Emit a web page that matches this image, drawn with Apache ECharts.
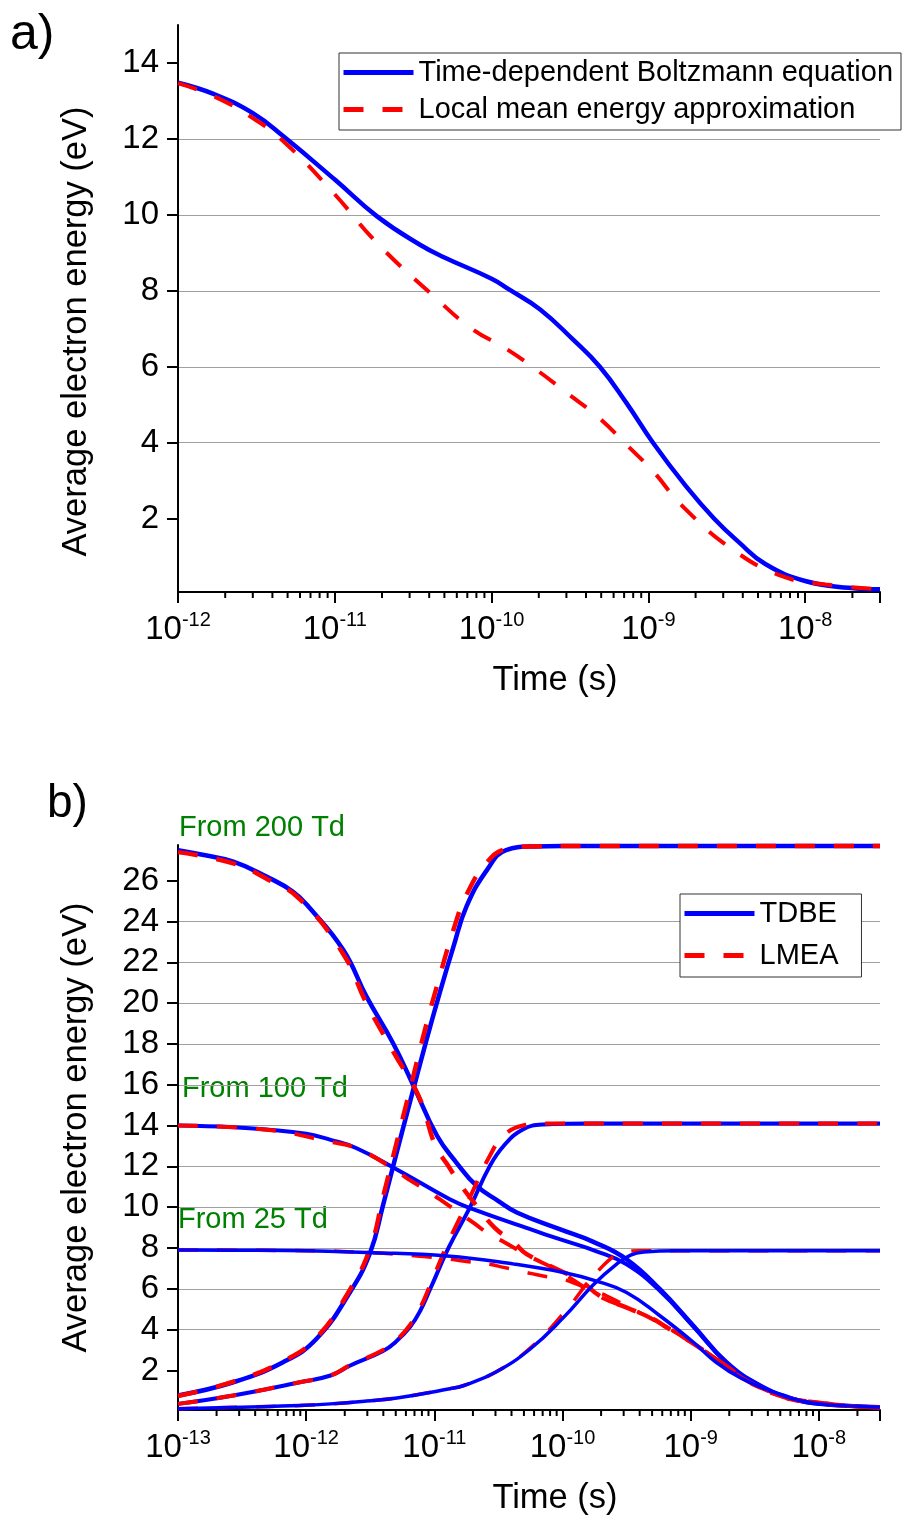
<!DOCTYPE html>
<html><head><meta charset="utf-8">
<script src="https://cdn.jsdelivr.net/npm/echarts@6.0.0/dist/echarts.min.js"></script>
<style>html,body{margin:0;padding:0;background:#fff}#c{width:903px;height:1517px}</style>
</head><body><div id="c"></div>
<script>
// ---------- Panel a) data ----------
const tA_tdbe = [1e-12, 1.7e-12, 3e-12, 4.7e-12, 1e-11, 1.86e-11, 3.47e-11, 5e-11, 1e-10, 1.3e-10, 2.04e-10, 3.3e-10, 4.9e-10, 7.24e-10, 1.07e-9, 1.74e-9, 2.63e-9, 3.8e-9, 5.6e-9, 1e-8, 1.9e-8, 3e-8];
const eA_tdbe = [13.48, 13.18, 12.68, 12.07, 10.93, 9.96, 9.22, 8.88, 8.32, 8.03, 7.51, 6.72, 6.0, 5.05, 4.0, 2.85, 2.0, 1.37, 0.8, 0.36, 0.18, 0.14];
const tA_lmea = [1e-12, 1.7e-12, 3e-12, 4.7e-12, 9.8e-12, 1.86e-11, 4.27e-11, 7.6e-11, 1.2e-10, 1.95e-10, 3e-10, 4.8e-10, 7.2e-10, 1.07e-9, 1.66e-9, 3.47e-9, 7.2e-9, 1.35e-8, 3e-8];
const eA_lmea = [13.47, 13.12, 12.55, 11.94, 10.58, 9.26, 7.86, 6.98, 6.51, 5.91, 5.32, 4.67, 3.96, 3.25, 2.32, 1.18, 0.48, 0.27, 0.14];
const yTicksA = [2, 4, 6, 8, 10, 12, 14];

// ---------- Panel b) data ----------
const tB_d200_tdbe = [1e-13, 1.48e-13, 2.7e-13, 4.9e-13, 7.9e-13, 1.07e-12, 1.95e-12, 2.95e-12, 4.8e-12, 6.9e-12, 1.05e-11, 1.48e-11, 2.14e-11, 3.16e-11, 4.4e-11, 9.5e-11, 1.74e-10, 3.16e-10, 5.75e-10, 1.05e-9, 1.9e-9, 3.47e-9, 6.3e-9, 1.02e-8, 3e-8];
const eB_d200_tdbe = [27.5, 27.3, 26.93, 26.2, 25.46, 24.65, 22.6, 20.33, 18.0, 15.93, 13.5, 12.2, 11.04, 10.3, 9.74, 8.92, 8.3, 7.45, 5.98, 4.19, 2.4, 1.26, 0.61, 0.36, 0.2];
const tB_d200_lmea = [1e-13, 2.7e-13, 4.9e-13, 8.9e-13, 1.95e-12, 2.95e-12, 4.8e-12, 7.6e-12, 1.02e-11, 1.26e-11, 1.66e-11, 2.14e-11, 2.95e-11, 4.17e-11, 5.25e-11, 9.5e-11, 1.38e-10, 1.95e-10, 3.4e-10, 5.1e-10, 6.2e-10, 1e-9, 1.58e-9, 2.88e-9, 3.7e-9, 5.9e-9, 9.5e-9, 1.55e-8, 3e-8];
const eB_d200_lmea = [27.4, 26.85, 26.1, 25.1, 22.4, 20.0, 17.6, 15.4, 13.0, 12.1, 10.96, 10.06, 9.0, 8.27, 7.7, 6.9, 6.4, 5.66, 5.0, 4.52, 4.19, 3.4, 2.56, 1.42, 1.1, 0.61, 0.44, 0.28, 0.18];
const tB_d100_tdbe = [1e-13, 2.7e-13, 4.9e-13, 1e-12, 1.55e-12, 2.45e-12, 5.1e-12, 1.32e-11, 2e-11, 5.6e-11, 9.5e-11, 1.82e-10, 3.16e-10, 5.75e-10, 1.05e-9, 1.9e-9, 3.47e-9, 6.3e-9, 1.02e-8, 3e-8];
const eB_d100_tdbe = [14.0, 13.92, 13.81, 13.6, 13.3, 12.9, 11.85, 10.39, 9.9, 8.92, 8.43, 7.85, 7.2, 5.9, 4.15, 2.38, 1.25, 0.6, 0.36, 0.2];
const tB_d100_lmea = [1e-13, 4.9e-13, 1.55e-12, 2.45e-12, 4.9e-12, 6.3e-12, 8.5e-12, 1.1e-11, 1.55e-11, 2e-11, 2.7e-11, 3.55e-11, 5.1e-11, 6.9e-11, 9.5e-11, 1.95e-10, 3.4e-10, 5.1e-10, 1e-9, 1.58e-9, 2.88e-9, 5.9e-9, 9.5e-9, 1.55e-8, 3e-8];
const eB_d100_lmea = [14.0, 13.8, 13.2, 12.9, 11.85, 11.36, 10.88, 10.39, 9.74, 9.25, 8.67, 8.27, 7.7, 7.29, 6.85, 5.62, 5.0, 4.5, 3.4, 2.56, 1.42, 0.61, 0.44, 0.28, 0.18];
const tB_d25_tdbe = [1e-13, 3.16e-13, 1e-12, 2.95e-12, 1.26e-11, 4.2e-11, 1.02e-10, 1.82e-10, 3.16e-10, 5.75e-10, 1.05e-9, 1.58e-9, 2.5e-9, 4e-9, 6.3e-9, 1.02e-8, 3e-8];
const eB_d25_tdbe = [7.9, 7.89, 7.87, 7.78, 7.61, 7.21, 6.8, 6.39, 5.82, 4.68, 3.38, 2.4, 1.6, 1.05, 0.6, 0.36, 0.2];
const tB_d25_lmea = [1e-13, 1e-12, 2.95e-12, 7e-12, 1.32e-11, 1.78e-11, 2.7e-11, 3.47e-11, 5.25e-11, 6.9e-11, 1.02e-10, 1.29e-10, 1.74e-10, 2.2e-10, 3.4e-10, 5.1e-10, 1e-9, 1.58e-9, 2.88e-9, 5.9e-9, 9.5e-9, 1.55e-8, 3e-8];
const eB_d25_lmea = [7.9, 7.87, 7.78, 7.62, 7.45, 7.34, 7.2, 7.05, 6.8, 6.64, 6.45, 6.23, 5.9, 5.66, 5.05, 4.5, 3.4, 2.56, 1.42, 0.61, 0.44, 0.28, 0.18];
const tB_r200 = [1e-13, 2.7e-13, 6.6e-13, 1.2e-12, 2.19e-12, 3.16e-12, 3.98e-12, 5e-12, 6.3e-12, 8.7e-12, 1.1e-11, 1.41e-11, 1.78e-11, 2.57e-11, 3.63e-11, 5.9e-11, 1e-10, 3e-8];
const eB_r200_tdbe = [0.77, 1.42, 2.4, 3.54, 5.82, 7.78, 10.1, 12.5, 14.9, 18.21, 20.49, 22.77, 24.73, 26.52, 27.5, 27.68, 27.7, 27.7];
const eB_r200_lmea = [0.75, 1.45, 2.45, 3.6, 5.95, 8.0, 10.5, 13.0, 15.5, 19.0, 21.3, 23.6, 25.3, 26.9, 27.55, 27.68, 27.7, 27.7];
const tB_r100 = [1e-13, 2.7e-13, 8.9e-13, 1.55e-12, 2.19e-12, 3.98e-12, 5.1e-12, 6.5e-12, 7.8e-12, 9.3e-12, 1.29e-11, 1.9e-11, 2.7e-11, 3.47e-11, 4.9e-11, 7.1e-11, 1.6e-10, 3e-8];
const eB_r100_tdbe = [0.36, 0.77, 1.42, 1.75, 2.23, 2.95, 3.45, 4.15, 4.95, 6.0, 8.0, 10.0, 12.0, 13.0, 13.81, 14.05, 14.1, 14.1];
const eB_r100_lmea = [0.36, 0.77, 1.42, 1.75, 2.25, 3.0, 3.5, 4.25, 5.1, 6.2, 8.3, 10.5, 12.5, 13.5, 14.0, 14.1, 14.1, 14.1];
const tB_r25_tdbe = [1e-13, 3.16e-13, 8.9e-13, 1.55e-12, 2.95e-12, 5.1e-12, 1.32e-11, 1.7e-11, 3e-11, 5.6e-11, 1.02e-10, 1.74e-10, 2.63e-10, 3.4e-10, 4.3e-10, 7.8e-10, 3e-8];
const eB_r25_tdbe = [0.12, 0.2, 0.28, 0.36, 0.5, 0.65, 1.1, 1.26, 1.91, 3.05, 4.6, 6.2, 7.2, 7.65, 7.8, 7.86, 7.86];
const tB_r25_lmea = [1e-13, 3.16e-13, 8.9e-13, 1.55e-12, 2.95e-12, 5.1e-12, 1.32e-11, 1.7e-11, 3e-11, 5.6e-11, 1.02e-10, 1.95e-10, 3e-10, 4e-10, 7.8e-10, 3e-8];
const eB_r25_lmea = [0.12, 0.2, 0.28, 0.36, 0.5, 0.65, 1.1, 1.26, 1.91, 3.1, 4.8, 6.96, 7.78, 7.86, 7.86, 7.86];
const yTicksB = [2, 4, 6, 8, 10, 12, 14, 16, 18, 20, 22, 24, 26];

// ---------- helpers ----------
const FONT = 'Liberation Sans, Arial, sans-serif';
const BLUE = '#0000ff', RED = '#ff0000';
const zip = (t, e) => t.map((v, i) => [v, e[i]]);

function minorTickValues(fromExp, toExp, maxVal) {
  const out = [];
  for (let p = fromExp; p <= toExp; p++) {
    for (let k = 2; k <= 9; k++) {
      const v = k * Math.pow(10, p);
      if (v <= maxVal * 1.0001) out.push(v);
    }
  }
  return out;
}

function fmtPow(v) {
  const l = Math.log10(v);
  const e = Math.round(l);
  if (Math.abs(l - e) > 1e-6) return '';
  return '{b|10}{s|' + e + '}';
}

function xAxisCfg(gi, min, max) {
  return {
    type: 'log', logBase: 10, gridIndex: gi, min: min, max: max,
    axisLine: { show: true, onZero: false, lineStyle: { color: '#000', width: 2 } },
    axisTick: { show: true, inside: false, length: 11, lineStyle: { color: '#000', width: 2 } },
    minorTick: { show: false },
    splitLine: { show: false },
    axisLabel: {
      margin: 18, fontSize: 33, fontFamily: FONT, color: '#000', formatter: fmtPow,
      rich: {
        b: { fontSize: 33, lineHeight: 40, fontFamily: FONT, color: '#000', verticalAlign: 'middle' },
        s: { fontSize: 20, lineHeight: 16, fontFamily: FONT, color: '#000', verticalAlign: 'top' }
      }
    },
    name: 'Time (s)', nameLocation: 'middle', nameGap: 71,
    nameTextStyle: { fontSize: 34.5, fontFamily: FONT, color: '#000', padding: [0, 0, 0, 52] }
  };
}

function yAxisCfg(gi, min, max, ticks, splitNumber, namePad) {
  return {
    type: 'value', gridIndex: gi, min: min, max: max, splitNumber: splitNumber,
    axisLine: { show: true, onZero: false, lineStyle: { color: '#000', width: 2 } },
    axisTick: { show: true, inside: false, length: 11, customValues: ticks, lineStyle: { color: '#000', width: 2 } },
    axisLabel: {
      margin: 19, fontSize: 33, fontFamily: FONT, color: '#000', customValues: ticks,
      formatter: v => (ticks.indexOf(Math.round(v * 1000) / 1000) >= 0 ? String(v) : '')
    },
    splitLine: { show: true, showMinLine: false, showMaxLine: false, lineStyle: { color: '#a0a0a0', width: 1 } },
    name: 'Average electron energy (eV)', nameLocation: 'middle', nameGap: 84,
    nameTextStyle: { fontSize: 34.5, fontFamily: FONT, color: '#000', padding: namePad }
  };
}

function line(name, data, color, width, dashed, idx, z) {
  return {
    type: 'line', name: name, data: data, xAxisIndex: idx, yAxisIndex: idx,
    symbol: 'none', showSymbol: false, smooth: 0.45, z: z || 2,
    lineStyle: { color: color, width: width, type: dashed ? [20, 19] : 'solid' },
    itemStyle: { color: color },
    emphasis: { disabled: true }
  };
}

function minorTicks(idx, vals, yMin) {
  return {
    type: 'custom', xAxisIndex: idx, yAxisIndex: idx, silent: true, clip: false, z: 20,
    data: vals.map(v => [v, yMin]),
    renderItem: (params, api) => {
      const p = api.coord([api.value(0), api.value(1)]);
      return { type: 'line', shape: { x1: p[0], y1: p[1], x2: p[0], y2: p[1] + 6 },
               style: { stroke: '#000', lineWidth: 2 } };
    }
  };
}

const A_MIN = 0.07, A_MAX = 15, B_MIN = 0.06, B_MAX = 27.75;
const nameA1 = 'Time-dependent Boltzmann equation', nameA2 = 'Local mean energy approximation';

const legendBase = {
  orient: 'vertical', itemWidth: 70, itemHeight: 2,
  borderColor: '#333', borderWidth: 1, backgroundColor: '#fff', selectedMode: false,
  itemStyle: { opacity: 0 },
  lineStyle: { width: 5 },
  textStyle: { fontSize: 29, fontFamily: FONT, color: '#000' }
};

const option = {
  animation: false,
  backgroundColor: '#fff',
  textStyle: { fontFamily: FONT },
  grid: [
    { left: 178, top: 25, width: 702, height: 567, containLabel: false },
    { left: 178, top: 845, width: 702, height: 566, containLabel: false }
  ],
  xAxis: [xAxisCfg(0, 1e-12, 3e-8), xAxisCfg(1, 1e-13, 3e-8)],
  yAxis: [yAxisCfg(0, A_MIN, A_MAX, yTicksA, 7, [0, 46, 0, 0]), yAxisCfg(1, B_MIN, B_MAX, yTicksB, 14, [0, 0, 0, 0])],
  legend: [
    Object.assign({}, legendBase, { data: [nameA1, nameA2], left: 339, top: 53, itemGap: 8, padding: [5, 8, 6, 2] }),
    Object.assign({}, legendBase, { data: ['TDBE', 'LMEA'], left: 680, top: 894, itemGap: 13, padding: [5, 23, 7, 2] })
  ],
  graphic: [
    { type: 'text', x: 10, y: 35, style: { text: 'a)', font: '50px ' + FONT, fill: '#000', align: 'left', verticalAlign: 'middle' } },
    { type: 'text', x: 47, y: 804, style: { text: 'b)', font: '46px ' + FONT, fill: '#000', align: 'left', verticalAlign: 'middle' } },
    { type: 'text', x: 179, y: 828, style: { text: 'From 200 Td', font: '29px ' + FONT, fill: '#008000', align: 'left', verticalAlign: 'middle' } },
    { type: 'text', x: 182, y: 1089, style: { text: 'From 100 Td', font: '29px ' + FONT, fill: '#008000', align: 'left', verticalAlign: 'middle' } },
    { type: 'text', x: 178, y: 1220, style: { text: 'From 25 Td', font: '29px ' + FONT, fill: '#008000', align: 'left', verticalAlign: 'middle' } }
  ],
  series: [
    line(nameA1, zip(tA_tdbe, eA_tdbe), BLUE, 4.5, false, 0, 2),
    line(nameA2, zip(tA_lmea, eA_lmea), RED, 4, true, 0, 3),
    minorTicks(0, minorTickValues(-12, -8, 3e-8), A_MIN),

    line('TDBE', zip(tB_d200_tdbe, eB_d200_tdbe), BLUE, 4.5, false, 1, 2),
    line('TDBE', zip(tB_r200, eB_r200_tdbe), BLUE, 4.5, false, 1, 2),
    line('TDBE', zip(tB_d100_tdbe, eB_d100_tdbe), BLUE, 4, false, 1, 2),
    line('TDBE', zip(tB_r100, eB_r100_tdbe), BLUE, 4, false, 1, 2),
    line('LMEA', zip(tB_d200_lmea, eB_d200_lmea), RED, 4.5, true, 1, 3),
    line('LMEA', zip(tB_r200, eB_r200_lmea), RED, 4.5, true, 1, 3),
    line('LMEA', zip(tB_d100_lmea, eB_d100_lmea), RED, 4, true, 1, 3),
    line('LMEA', zip(tB_r100, eB_r100_lmea), RED, 4, true, 1, 3),
    line('LMEA', zip(tB_d25_lmea, eB_d25_lmea), RED, 3.5, true, 1, 3),
    line('LMEA', zip(tB_r25_lmea, eB_r25_lmea), RED, 3.5, true, 1, 3),
    line('TDBE', zip(tB_d25_tdbe, eB_d25_tdbe), BLUE, 3.5, false, 1, 4),
    line('TDBE', zip(tB_r25_tdbe, eB_r25_tdbe), BLUE, 3.5, false, 1, 4),
    minorTicks(1, minorTickValues(-13, -8, 3e-8), B_MIN)
  ]
};

const chart = echarts.init(document.getElementById('c'), null, { renderer: 'canvas' });
chart.setOption(option);
</script></body></html>
